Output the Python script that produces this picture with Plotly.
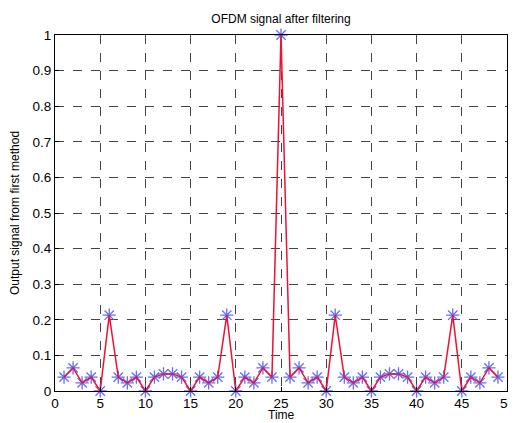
import plotly.graph_objects as go

time = list(range(1, 50))
signal = [0.039, 0.065, 0.023, 0.039, 0.0, 0.213, 0.039, 0.023, 0.039, 0.0,
          0.039, 0.048, 0.048, 0.039, 0.0, 0.039, 0.023, 0.039, 0.213, 0.0,
          0.039, 0.023, 0.065, 0.039, 1.0, 0.039, 0.065, 0.023, 0.039, 0.0,
          0.213, 0.039, 0.023, 0.039, 0.0, 0.039, 0.048, 0.048, 0.039, 0.0,
          0.039, 0.023, 0.039, 0.213, 0.0, 0.039, 0.023, 0.065, 0.039]
x_ticks = [0, 5, 10, 15, 20, 25, 30, 35, 40, 45, 50]
x_tick_text = ["0", "5", "10", "15", "20", "25", "30", "35", "40", "45", "50"]
y_ticks = [0, 0.1, 0.2, 0.3, 0.4, 0.5, 0.6, 0.7, 0.8, 0.9, 1]
y_tick_text = ["0", "0.1", "0.2", "0.3", "0.4", "0.5", "0.6", "0.7", "0.8", "0.9", "1"]

fig = go.Figure()
fig.add_trace(go.Scatter(x=time, y=signal, mode="markers",
                         marker=dict(symbol="asterisk-open", size=11,
                                     line=dict(color="#4455ff", width=1.3)),
                         showlegend=False, cliponaxis=False))
fig.add_trace(go.Scatter(x=time, y=signal, mode="lines",
                         line=dict(color="#ee1133", width=1.5),
                         showlegend=False, cliponaxis=False))

font = "Liberation Sans, Arial, sans-serif"
tick_size = 13.5
# the last x tick label sits at the very right edge; draw it as an annotation
axis_text = x_tick_text[:-1] + [""]

# the page body has an 8px margin, so the figure is offset by 8px in the window
fig.update_layout(
    width=508, height=415,
    margin=dict(l=47, r=9, t=27, b=32, autoexpand=False),
    paper_bgcolor="white", plot_bgcolor="white",
    font=dict(family=font, size=tick_size, color="black"),
    title=dict(text="OFDM signal after filtering", x=0.5, xref="paper",
               y=1 - 11 / 415, yref="container", xanchor="center", yanchor="middle",
               font=dict(size=12)),
    xaxis=dict(range=[0, 50], tickvals=x_ticks, ticktext=axis_text, showgrid=True,
               gridcolor="#444", griddash="dash", gridwidth=1,
               showline=True, linecolor="black", linewidth=1, mirror=True,
               ticks="inside", ticklen=4, tickcolor="black",
               zeroline=False, ticklabeloverflow="allow", automargin=False),
    yaxis=dict(range=[0, 1], tickvals=y_ticks, ticktext=y_tick_text,
               showgrid=True, gridcolor="#444", griddash="dash", gridwidth=1,
               showline=True, linecolor="black", linewidth=1, mirror=True,
               ticks="inside", ticklen=4, tickcolor="black",
               zeroline=False, ticklabeloverflow="allow", automargin=False),
    annotations=[
        dict(text=x_tick_text[-1], xref="x", yref="paper", x=x_ticks[-1], y=0,
             xanchor="center", yanchor="middle", yshift=-12, showarrow=False,
             font=dict(size=tick_size), borderpad=0),
        dict(text="Time", xref="paper", yref="paper", x=0.5, y=0,
             xanchor="center", yanchor="bottom", yshift=-32, showarrow=False,
             font=dict(size=12), borderpad=0),
        dict(text="Output signal from first method", xref="paper", yref="paper",
             x=0, y=0.5, xanchor="center", yanchor="middle", xshift=-40,
             textangle=-90, showarrow=False, font=dict(size=12)),
    ],
)

fig.write_html("out.html")
